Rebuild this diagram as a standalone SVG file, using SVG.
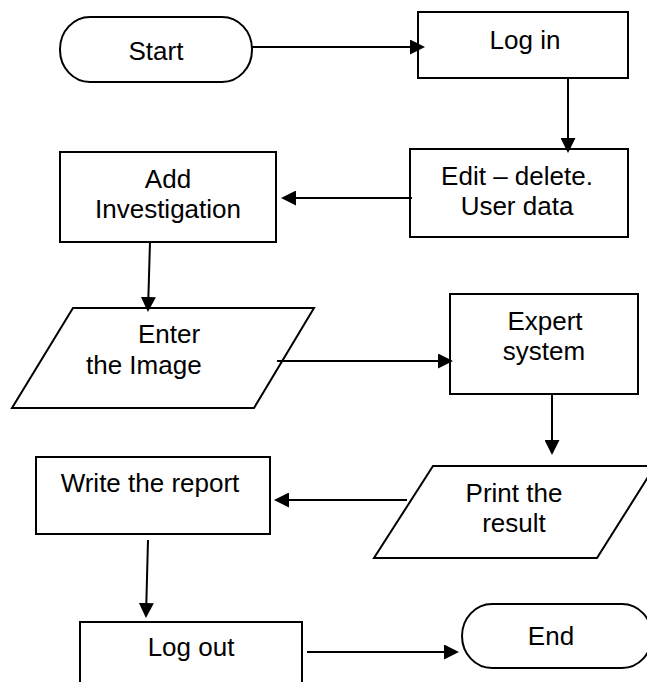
<svg xmlns="http://www.w3.org/2000/svg" width="647" height="682" viewBox="0 0 647 682">
  <style>
    .shape { fill: #ffffff; stroke: #000000; stroke-width: 2; }
    .link { fill: none; stroke: #000000; stroke-width: 2; }
    .label { font-family: "Liberation Sans", Arial, sans-serif; font-size: 26px; fill: #000000; text-anchor: middle; }
    .left { text-anchor: start; }
  </style>
  <defs>
    <marker id="arrow" markerUnits="userSpaceOnUse" markerWidth="15" markerHeight="15" refX="13" refY="7.5" orient="auto">
      <path d="M0,0 L15,7.5 L0,15 Z" fill="#000000"/>
    </marker>
  </defs>
  <rect width="647" height="682" fill="#ffffff"/>

  <g id="start">
    <rect class="shape" x="60" y="17" width="192" height="65" rx="30" ry="32"/>
    <text class="label" x="156" y="60">Start</text>
  </g>

  <g id="login">
    <rect class="shape" x="418" y="12" width="210" height="66"/>
    <text class="label" x="525" y="49">Log in</text>
  </g>

  <g id="edit">
    <rect class="shape" x="410" y="149" width="218" height="88"/>
    <text class="label" x="517" y="185">Edit – delete.</text>
    <text class="label" x="517" y="215">User data</text>
  </g>

  <g id="add-investigation">
    <rect class="shape" x="60" y="152" width="216" height="90"/>
    <text class="label" x="168" y="188">Add</text>
    <text class="label" x="168" y="218">Investigation</text>
  </g>

  <g id="enter-image">
    <polygon class="shape" points="73,308 314,308 254,408 12,408"/>
    <text class="label left" x="138" y="343">Enter</text>
    <text class="label left" x="86" y="374">the Image</text>
  </g>

  <g id="expert-system">
    <rect class="shape" x="450" y="294" width="188" height="100"/>
    <text class="label" x="545" y="330">Expert</text>
    <text class="label" x="544" y="360">system</text>
  </g>

  <g id="print-result">
    <polygon class="shape" points="433,466 655,466 597,558 374,558"/>
    <text class="label" x="514" y="502">Print the</text>
    <text class="label" x="514" y="532">result</text>
  </g>

  <g id="write-report">
    <rect class="shape" x="36" y="457" width="234" height="77"/>
    <text class="label" x="150" y="492">Write the report</text>
  </g>

  <g id="logout">
    <rect class="shape" x="80" y="622" width="222" height="80"/>
    <text class="label" x="191" y="656">Log out</text>
  </g>

  <g id="end">
    <rect class="shape" x="462" y="604" width="190" height="64" rx="30" ry="32"/>
    <text class="label" x="551" y="645">End</text>
  </g>

  <g id="connectors">
    <line class="link" x1="252" y1="47" x2="423" y2="47" marker-end="url(#arrow)"/>
    <line class="link" x1="568" y1="78" x2="568" y2="151" marker-end="url(#arrow)"/>
    <line class="link" x1="412" y1="198" x2="283" y2="198" marker-end="url(#arrow)"/>
    <line class="link" x1="150" y1="242" x2="148" y2="310" marker-end="url(#arrow)"/>
    <line class="link" x1="277" y1="361" x2="451" y2="361" marker-end="url(#arrow)"/>
    <line class="link" x1="552" y1="394" x2="552" y2="453" marker-end="url(#arrow)"/>
    <line class="link" x1="407" y1="500" x2="276" y2="500" marker-end="url(#arrow)"/>
    <line class="link" x1="148" y1="540" x2="146" y2="616" marker-end="url(#arrow)"/>
    <line class="link" x1="307" y1="652" x2="457" y2="652" marker-end="url(#arrow)"/>
  </g>
</svg>
